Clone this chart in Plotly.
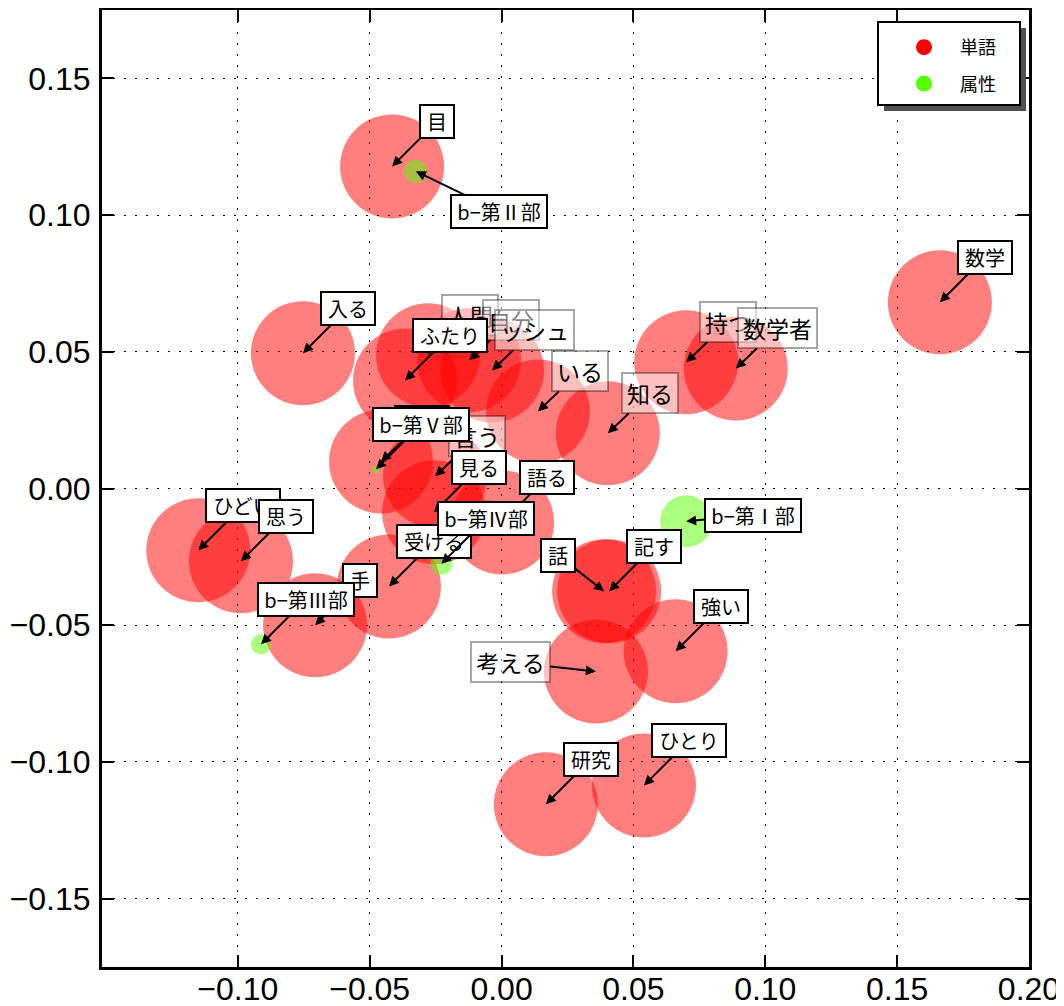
import plotly.graph_objects as go

# ---- data ----
word_names = ["目", "数学", "入る", "人間", "自分", "ッシュ", "ふたり", "いる", "知る", "持つ",
              "数学者", "ある", "言う", "見る", "語る", "受ける", "手", "ひどい", "思う", "話", "記す",
              "強い", "考える", "研究", "ひとり"]
word_x = [-0.0415, 0.1662, -0.0753, -0.0279, -0.0123, -0.0036, -0.0366, 0.0138, 0.0403, 0.0700,
          0.0888, -0.0457, -0.0252, -0.0256, 0.0002, -0.0427, -0.0707, -0.1150, -0.0988, 0.0389, 0.0408,
          0.0660, 0.0358, 0.0168, 0.0540]
word_y = [0.1178, 0.0681, 0.0495, 0.0487, 0.0469, 0.0432, 0.0395, 0.0282, 0.0202, 0.0462,
          0.0439, 0.0099, 0.0045, -0.0087, -0.0124, -0.0358, -0.0500, -0.0226, -0.0266, -0.0376, -0.0376,
          -0.0595, -0.0669, -0.1155, -0.1086]

attr_names = ["b−第Ⅰ部", "b−第Ⅱ部", "b−第Ⅲ部", "b−第Ⅳ部", "b−第Ⅴ部"]
attr_x = [0.0700, -0.0325, -0.0912, -0.0228, -0.0476]
attr_y = [-0.0120, 0.1160, -0.0570, -0.0275, 0.0070]
attr_size = [52, 23, 20, 22, 8]

legend_names = ["単語", "属性"]
x_ticks = [-0.10, -0.05, 0.00, 0.05, 0.10, 0.15, 0.20]
y_ticks = [-0.15, -0.10, -0.05, 0.00, 0.05, 0.10, 0.15]

# ---- styles ----
RED = "rgb(255,0,0)"
GREEN = "rgb(85,255,0)"
JP = "Noto Sans CJK JP"
faded = {"人間", "自分", "ッシュ", "いる", "知る", "言う", "持つ", "数学者", "考える"}
offsets = {"b−第Ⅰ部": (67, -6), "b−第Ⅱ部": (83, 40), "考える": (-85, -9), "話": (-46, -36),
           "ある": (41, -39)}


def text_width(s, fs):
    w = 0
    for c in s:
        w += fs * (0.55 if (ord(c) < 0x2000 or c == "−") else 1.0)
    return w


fig = go.Figure()
fig.add_trace(go.Scatter(x=word_x, y=word_y, mode="markers", showlegend=False,
                         marker=dict(size=104, color=RED, opacity=0.5, line=dict(width=0)),
                         hoverinfo="text", text=word_names))
fig.add_trace(go.Scatter(x=attr_x, y=attr_y, mode="markers", showlegend=False,
                         marker=dict(size=attr_size, color=GREEN, opacity=0.5, line=dict(width=0)),
                         hoverinfo="text", text=attr_names))
for nm, col, grp in [(legend_names[0], RED, "a"), (legend_names[1], GREEN, "b")]:
    fig.add_trace(go.Scatter(x=[None], y=[None], mode="markers", name=nm, legendgroup=grp,
                             marker=dict(size=16, color=col)))

annotations = []
def add_label(name, x, y):
    if name in faded:
        fs = 23
        ax, ay = offsets.get(name, (42, -40))
        annotations.append(dict(x=x, y=y, xref="x", yref="y", text=name, showarrow=True,
                                ax=ax, ay=ay, arrowhead=2, arrowsize=1.0, arrowwidth=2,
                                arrowcolor="black", standoff=0, startstandoff=0,
                                width=text_width(name, fs) + 4,
                                font=dict(family=JP, size=fs, color="black"),
                                bgcolor="rgba(255,255,255,0.5)", bordercolor="rgba(0,0,0,0.35)",
                                borderwidth=2, borderpad=2))
    else:
        fs = 20
        ax, ay = offsets.get(name, (45, -45))
        annotations.append(dict(x=x, y=y, xref="x", yref="y", text=name, showarrow=True,
                                ax=ax, ay=ay, arrowhead=2, arrowsize=1.0, arrowwidth=2,
                                arrowcolor="black", standoff=0, startstandoff=0,
                                width=text_width(name, fs) + 10,
                                font=dict(family=JP, size=fs, color="black"),
                                bgcolor="white", bordercolor="black",
                                borderwidth=2, borderpad=1))

for n, x, y in zip(word_names, word_x, word_y):
    if n in faded:
        add_label(n, x, y)
for n, x, y in zip(word_names, word_x, word_y):
    if n not in faded:
        add_label(n, x, y)
for n, x, y in zip(attr_names, attr_x, attr_y):
    add_label(n, x, y)

# the page body adds an 8px offset; plot area target (page px): 102..1029 x 10..967
OFF = 8
L, R, T, B = 102, 1029, 10, 967
FIG_W, FIG_H = 1056, 998
W, H = R - L, B - T
def px(xp):
    return (xp - L) / W
def py(yp):
    return 1 - (yp - T) / H

shapes = [
    dict(type="rect", xref="paper", yref="paper", x0=px(884), x1=px(1026), y0=py(111), y1=py(28),
         fillcolor="rgb(80,80,80)", line=dict(width=0), layer="above"),
    dict(type="rect", xref="paper", yref="paper", x0=px(878), x1=px(1020), y0=py(105), y1=py(22),
         fillcolor="white", line=dict(color="black", width=2), layer="above"),
]

axis_common = dict(showline=True, linewidth=3, linecolor="black", mirror="allticks",
                   ticks="inside", ticklen=12, tickwidth=2, tickcolor="black",
                   showgrid=True, gridcolor="black", gridwidth=1.3, griddash="2px,9px",
                   zeroline=False, tickformat=".2f", automargin=False,
                   tickfont=dict(family="Liberation Sans", size=32, color="black"))

fig.update_layout(
    template="none",
    width=FIG_W, height=FIG_H,
    margin=dict(l=L - OFF, r=FIG_W + OFF - R, t=T - OFF, b=FIG_H + OFF - B, pad=0),
    paper_bgcolor="white", plot_bgcolor="white",
    xaxis=dict(range=[-0.1515, 0.2], tickvals=x_ticks, ticklabelstandoff=-8, **axis_common),
    yaxis=dict(range=[-0.175, 0.175], tickvals=y_ticks, ticklabelstandoff=2, **axis_common),
    annotations=annotations,
    shapes=shapes,
    showlegend=True,
    legend=dict(x=px(888), y=py(29), xanchor="left", yanchor="top",
                bgcolor="rgba(0,0,0,0)", borderwidth=0, tracegroupgap=10,
                itemwidth=62, font=dict(family=JP, size=18, color="black")),
)

fig.write_html("out.html")
